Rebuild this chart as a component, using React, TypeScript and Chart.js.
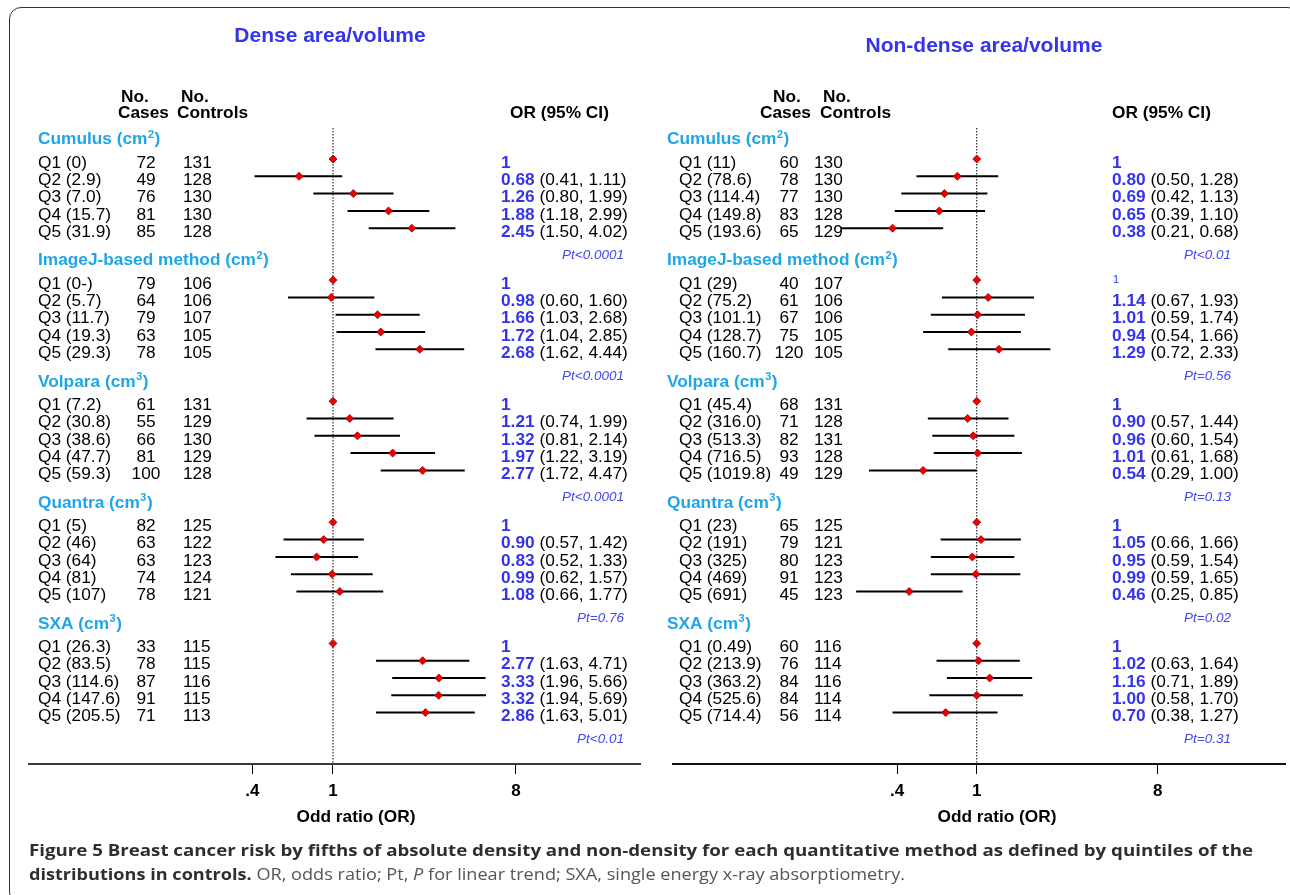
import React, { useEffect, useLayoutEffect, useRef } from 'react';
import { Chart, registerables } from 'chart.js';

Chart.register(...registerables);

// ---------- data ----------
const groupNames = ['Cumulus (cm', 'ImageJ-based method (cm', 'Volpara (cm', 'Quantra (cm', 'SXA (cm'];
const groupSup = ['2', '2', '3', '3', '3'];

const denseLabels = [
  'Q1 (0)', 'Q2 (2.9)', 'Q3 (7.0)', 'Q4 (15.7)', 'Q5 (31.9)',
  'Q1 (0-)', 'Q2 (5.7)', 'Q3 (11.7)', 'Q4 (19.3)', 'Q5 (29.3)',
  'Q1 (7.2)', 'Q2 (30.8)', 'Q3 (38.6)', 'Q4 (47.7)', 'Q5 (59.3)',
  'Q1 (5)', 'Q2 (46)', 'Q3 (64)', 'Q4 (81)', 'Q5 (107)',
  'Q1 (26.3)', 'Q2 (83.5)', 'Q3 (114.6)', 'Q4 (147.6)', 'Q5 (205.5)',
];
const denseCases = [72, 49, 76, 81, 85, 79, 64, 79, 63, 78, 61, 55, 66, 81, 100, 82, 63, 63, 74, 78, 33, 78, 87, 91, 71];
const denseControls = [131, 128, 130, 130, 128, 106, 106, 107, 105, 105, 131, 129, 130, 129, 128, 125, 122, 123, 124, 121, 115, 115, 116, 115, 113];
const denseOR = [1, 0.68, 1.26, 1.88, 2.45, 1, 0.98, 1.66, 1.72, 2.68, 1, 1.21, 1.32, 1.97, 2.77, 1, 0.90, 0.83, 0.99, 1.08, 1, 2.77, 3.33, 3.32, 2.86];
const denseLo = [null, 0.41, 0.80, 1.18, 1.50, null, 0.60, 1.03, 1.04, 1.62, null, 0.74, 0.81, 1.22, 1.72, null, 0.57, 0.52, 0.62, 0.66, null, 1.63, 1.96, 1.94, 1.63];
const denseHi = [null, 1.11, 1.99, 2.99, 4.02, null, 1.60, 2.68, 2.85, 4.44, null, 1.99, 2.14, 3.19, 4.47, null, 1.42, 1.33, 1.57, 1.77, null, 4.71, 5.66, 5.69, 5.01];
const densePt = ['Pt<0.0001', 'Pt<0.0001', 'Pt<0.0001', 'Pt=0.76', 'Pt<0.01'];

const nonDenseLabels = [
  'Q1 (11)', 'Q2 (78.6)', 'Q3 (114.4)', 'Q4 (149.8)', 'Q5 (193.6)',
  'Q1 (29)', 'Q2 (75.2)', 'Q3 (101.1)', 'Q4 (128.7)', 'Q5 (160.7)',
  'Q1 (45.4)', 'Q2 (316.0)', 'Q3 (513.3)', 'Q4 (716.5)', 'Q5 (1019.8)',
  'Q1 (23)', 'Q2 (191)', 'Q3 (325)', 'Q4 (469)', 'Q5 (691)',
  'Q1 (0.49)', 'Q2 (213.9)', 'Q3 (363.2)', 'Q4 (525.6)', 'Q5 (714.4)',
];
const nonDenseCases = [60, 78, 77, 83, 65, 40, 61, 67, 75, 120, 68, 71, 82, 93, 49, 65, 79, 80, 91, 45, 60, 76, 84, 84, 56];
const nonDenseControls = [130, 130, 130, 128, 129, 107, 106, 106, 105, 105, 131, 128, 131, 128, 129, 125, 121, 123, 123, 123, 116, 114, 116, 114, 114];
const nonDenseOR = [1, 0.80, 0.69, 0.65, 0.38, 1, 1.14, 1.01, 0.94, 1.29, 1, 0.90, 0.96, 1.01, 0.54, 1, 1.05, 0.95, 0.99, 0.46, 1, 1.02, 1.16, 1.00, 0.70];
const nonDenseLo = [null, 0.50, 0.42, 0.39, 0.21, null, 0.67, 0.59, 0.54, 0.72, null, 0.57, 0.60, 0.61, 0.29, null, 0.66, 0.59, 0.59, 0.25, null, 0.63, 0.71, 0.58, 0.38];
const nonDenseHi = [null, 1.28, 1.13, 1.10, 0.68, null, 1.93, 1.74, 1.66, 2.33, null, 1.44, 1.54, 1.68, 1.00, null, 1.66, 1.54, 1.65, 0.85, null, 1.64, 1.89, 1.70, 1.27];
const nonDensePt = ['Pt<0.01', 'Pt=0.56', 'Pt=0.13', 'Pt=0.02', 'Pt=0.31'];
const nonDenseSmallRef = [5];

const xTickValues = [0.4, 1, 8];
const xTickLabels = ['.4', '1', '8'];

// ---------- style / layout ----------
const FONT = '"Liberation Sans", Arial, Helvetica, sans-serif';
const FS = 17.3;
const TITLE_BLUE = '#3434ee';
const OR_BLUE = '#3434ee';
const PT_BLUE = '#4646f0';
const HEAD_CYAN = '#1ea6e6';
const ROWS_PER_GROUP = 7;
const Y_MIN = -1.792;
const Y_MAX = 34.97;

const leftLayout = {
  canvasLeft: 0, width: 655, height: 840, padLeft: 29, padRight: 15,
  xMin: 0.0316, xMax: 32.75, axisColor: '#3a3a3a',
  titleX: 330, titleY: 36,
  noCasesX: 121, casesHeadX: 118, noCtrlX: 181, ctrlHeadX: 177, orHeadX: 510,
  headerX: 38, labelX: 38, casesX: 146, ctrlX: 183, orX: 501, ptRight: 624, axisTitleX: 356,
};
const rightLayout = {
  canvasLeft: 658, width: 632, height: 840, padLeft: 15, padRight: 0,
  xMin: 0.0305, xMax: 34.6, axisColor: '#111111',
  titleX: 984, titleY: 46,
  noCasesX: 773, casesHeadX: 760, noCtrlX: 823, ctrlHeadX: 820, orHeadX: 1112,
  headerX: 667, labelX: 679, casesX: 789, ctrlX: 814, orX: 1112, ptRight: 1231, axisTitleX: 997,
};

type PanelProps = {
  title: string;
  labels: string[];
  cases: number[];
  controls: number[];
  or: number[];
  lo: (number | null)[];
  hi: (number | null)[];
  pt: string[];
  smallRef: number[];
  layout: any;
};

function ForestPanel(props: PanelProps) {
  const canvasRef = useRef<HTMLCanvasElement>(null);

  useEffect(() => {
    const { title, labels, cases, controls, or, lo, hi, pt, smallRef, layout } = props;
    const L = layout;
    const ox = L.canvasLeft;
    const rows = labels.map((_, i) => Math.floor(i / 5) * ROWS_PER_GROUP + (i % 5));

    const markerSet: any = {
      label: 'OR',
      data: rows.map((r, i) => ({ x: or[i], y: r })),
      pointStyle: 'rectRot',
      pointRadius: 4,
      backgroundColor: '#ee0000',
      borderColor: '#900000',
      borderWidth: 0.8,
      order: 0,
    };
    const ciSets: any[] = [];
    rows.forEach((r, i) => {
      if (lo[i] == null || hi[i] == null) return;
      ciSets.push({
        label: 'CI' + i,
        data: [{ x: lo[i], y: r }, { x: hi[i], y: r }],
        showLine: true,
        pointRadius: 0,
        borderColor: '#000000',
        borderWidth: 2,
        order: 1,
      });
    });
    const refSet: any = {
      label: 'ref',
      data: [{ x: 1, y: Y_MIN }, { x: 1, y: Y_MAX }],
      showLine: true,
      pointRadius: 0,
      borderColor: '#000000',
      borderWidth: 1,
      borderDash: [1.5, 1.5],
      order: 2,
    };

    const textPlugin = {
      id: 'forestText',
      afterDraw(chart: any) {
        const ctx = chart.ctx as CanvasRenderingContext2D;
        const ys = chart.scales.y;
        ctx.save();
        ctx.textBaseline = 'middle';

        // panel title
        ctx.fillStyle = TITLE_BLUE;
        ctx.font = `bold 21px ${FONT}`;
        ctx.textAlign = 'center';
        ctx.fillText(title, L.titleX - ox, L.titleY);

        // column heads
        ctx.fillStyle = '#000';
        ctx.font = `bold ${FS}px ${FONT}`;
        ctx.textAlign = 'left';
        ctx.fillText('No.', L.noCasesX - ox, 97);
        ctx.fillText('Cases', L.casesHeadX - ox, 113);
        ctx.fillText('No.', L.noCtrlX - ox, 97);
        ctx.fillText('Controls', L.ctrlHeadX - ox, 113);
        ctx.fillText('OR (95% CI)', L.orHeadX - ox, 113);

        for (let g = 0; g < groupNames.length; g++) {
          const base = g * ROWS_PER_GROUP;
          // group header with superscript
          const hy = ys.getPixelForValue(base - 1.12);
          ctx.fillStyle = HEAD_CYAN;
          ctx.font = `bold ${FS}px ${FONT}`;
          ctx.textAlign = 'left';
          let hx = L.headerX - ox;
          ctx.fillText(groupNames[g], hx, hy);
          hx += ctx.measureText(groupNames[g]).width + 0.5;
          ctx.font = `bold 11px ${FONT}`;
          ctx.fillText(groupSup[g], hx, hy - 5);
          hx += ctx.measureText(groupSup[g]).width + 0.5;
          ctx.font = `bold ${FS}px ${FONT}`;
          ctx.fillText(')', hx, hy);

          for (let q = 0; q < 5; q++) {
            const i = g * 5 + q;
            const y = ys.getPixelForValue(base + q) + 4;
            ctx.fillStyle = '#000';
            ctx.font = `${FS}px ${FONT}`;
            ctx.textAlign = 'left';
            ctx.fillText(labels[i], L.labelX - ox, y);
            ctx.textAlign = 'center';
            ctx.fillText(String(cases[i]), L.casesX - ox, y);
            ctx.textAlign = 'left';
            ctx.fillText(String(controls[i]), L.ctrlX - ox, y);

            if (lo[i] == null || hi[i] == null) {
              ctx.fillStyle = OR_BLUE;
              if (smallRef.includes(i)) {
                ctx.font = `11px ${FONT}`;
                ctx.fillText('1', L.orX - ox + 1, y - 4);
              } else {
                ctx.font = `bold ${FS}px ${FONT}`;
                ctx.fillText('1', L.orX - ox, y);
              }
            } else {
              const v = or[i].toFixed(2);
              ctx.fillStyle = OR_BLUE;
              ctx.font = `bold ${FS}px ${FONT}`;
              ctx.fillText(v, L.orX - ox, y);
              const w = ctx.measureText(v).width;
              ctx.fillStyle = '#000';
              ctx.font = `${FS}px ${FONT}`;
              ctx.fillText(` (${(lo[i] as number).toFixed(2)}, ${(hi[i] as number).toFixed(2)})`, L.orX - ox + w, y);
            }
          }

          // trend p
          const py = ys.getPixelForValue(base + 4 + 1.55);
          ctx.fillStyle = PT_BLUE;
          ctx.font = `italic 13.5px ${FONT}`;
          ctx.textAlign = 'right';
          ctx.fillText(pt[g], L.ptRight - ox, py);
        }

        // axis title
        ctx.fillStyle = '#000';
        ctx.font = `bold ${FS}px ${FONT}`;
        ctx.textAlign = 'center';
        ctx.fillText('Odd ratio (OR)', L.axisTitleX - ox, 817);
        ctx.restore();
      },
    };

    const chart = new Chart(canvasRef.current as HTMLCanvasElement, {
      type: 'scatter',
      data: { datasets: [markerSet, ...ciSets, refSet] },
      options: {
        animation: false,
        responsive: false,
        events: [],
        layout: { padding: { left: L.padLeft, right: L.padRight, top: 128, bottom: 0 } },
        plugins: { legend: { display: false }, tooltip: { enabled: false } },
        scales: {
          x: {
            type: 'logarithmic',
            min: L.xMin,
            max: L.xMax,
            position: 'bottom',
            afterBuildTicks: (scale: any) => {
              scale.ticks = xTickValues.map((v) => ({ value: v }));
            },
            afterFit: (scale: any) => {
              scale.height = 76;
            },
            border: { display: true, color: L.axisColor, width: 2 },
            grid: { display: true, drawOnChartArea: false, drawTicks: true, tickLength: 10, color: '#000', lineWidth: 1 },
            ticks: {
              autoSkip: false,
              maxRotation: 0,
              padding: 7,
              color: '#000',
              font: { family: FONT, size: 17, weight: 'bold' },
              callback: (_v: any, idx: number) => xTickLabels[idx],
            },
          },
          y: {
            type: 'linear',
            display: false,
            min: Y_MIN,
            max: Y_MAX,
            reverse: true,
          },
        },
      } as any,
      plugins: [textPlugin],
    });
    return () => chart.destroy();
  }, []);

  const L = props.layout;
  return (
    <canvas
      ref={canvasRef}
      width={L.width}
      height={L.height}
      style={{ position: 'absolute', left: L.canvasLeft, top: 0, width: L.width, height: L.height }}
    />
  );
}

function Caption() {
  const line1Ref = useRef<HTMLDivElement>(null);
  const line2Ref = useRef<HTMLDivElement>(null);
  useLayoutEffect(() => {
    const fit = (el: HTMLDivElement | null, target: number) => {
      if (!el) return;
      const w = el.getBoundingClientRect().width;
      if (w > 0) el.style.transform = `scaleX(${target / w})`;
    };
    fit(line1Ref.current, 1224);
    fit(line2Ref.current, 876);
  }, []);
  const lineStyle: React.CSSProperties = {
    position: 'absolute', left: 29, display: 'inline-block', whiteSpace: 'nowrap', transformOrigin: '0 0',
    fontFamily: '"Open Sans", sans-serif', fontSize: 15.5, lineHeight: '25px', color: '#2e2e2e',
  };
  return (
    <>
      <div ref={line1Ref} style={{ ...lineStyle, top: 838, fontWeight: 700 }}>
        Figure 5 Breast cancer risk by fifths of absolute density and non-density for each quantitative method as defined by quintiles of the
      </div>
      <div ref={line2Ref} style={{ ...lineStyle, top: 862 }}>
        <span style={{ fontWeight: 700 }}>distributions in controls.</span>{' '}
        <span style={{ color: '#555' }}>
          OR, odds ratio; Pt, <i>P</i> for linear trend; SXA, single energy x-ray absorptiometry.
        </span>
      </div>
    </>
  );
}

export default function App() {
  return (
    <div style={{ position: 'absolute', left: 0, top: 0, width: 1290, height: 895, overflow: 'hidden', background: '#fff' }}>
      <div
        style={{
          position: 'absolute', left: 9, top: 7, width: 1291, height: 897, boxSizing: 'border-box',
          border: '1.5px solid #333', borderRadius: 12,
        }}
      />
      <ForestPanel
        title="Dense area/volume"
        labels={denseLabels}
        cases={denseCases}
        controls={denseControls}
        or={denseOR}
        lo={denseLo}
        hi={denseHi}
        pt={densePt}
        smallRef={[]}
        layout={leftLayout}
      />
      <ForestPanel
        title="Non-dense area/volume"
        labels={nonDenseLabels}
        cases={nonDenseCases}
        controls={nonDenseControls}
        or={nonDenseOR}
        lo={nonDenseLo}
        hi={nonDenseHi}
        pt={nonDensePt}
        smallRef={nonDenseSmallRef}
        layout={rightLayout}
      />
      <Caption />
    </div>
  );
}
